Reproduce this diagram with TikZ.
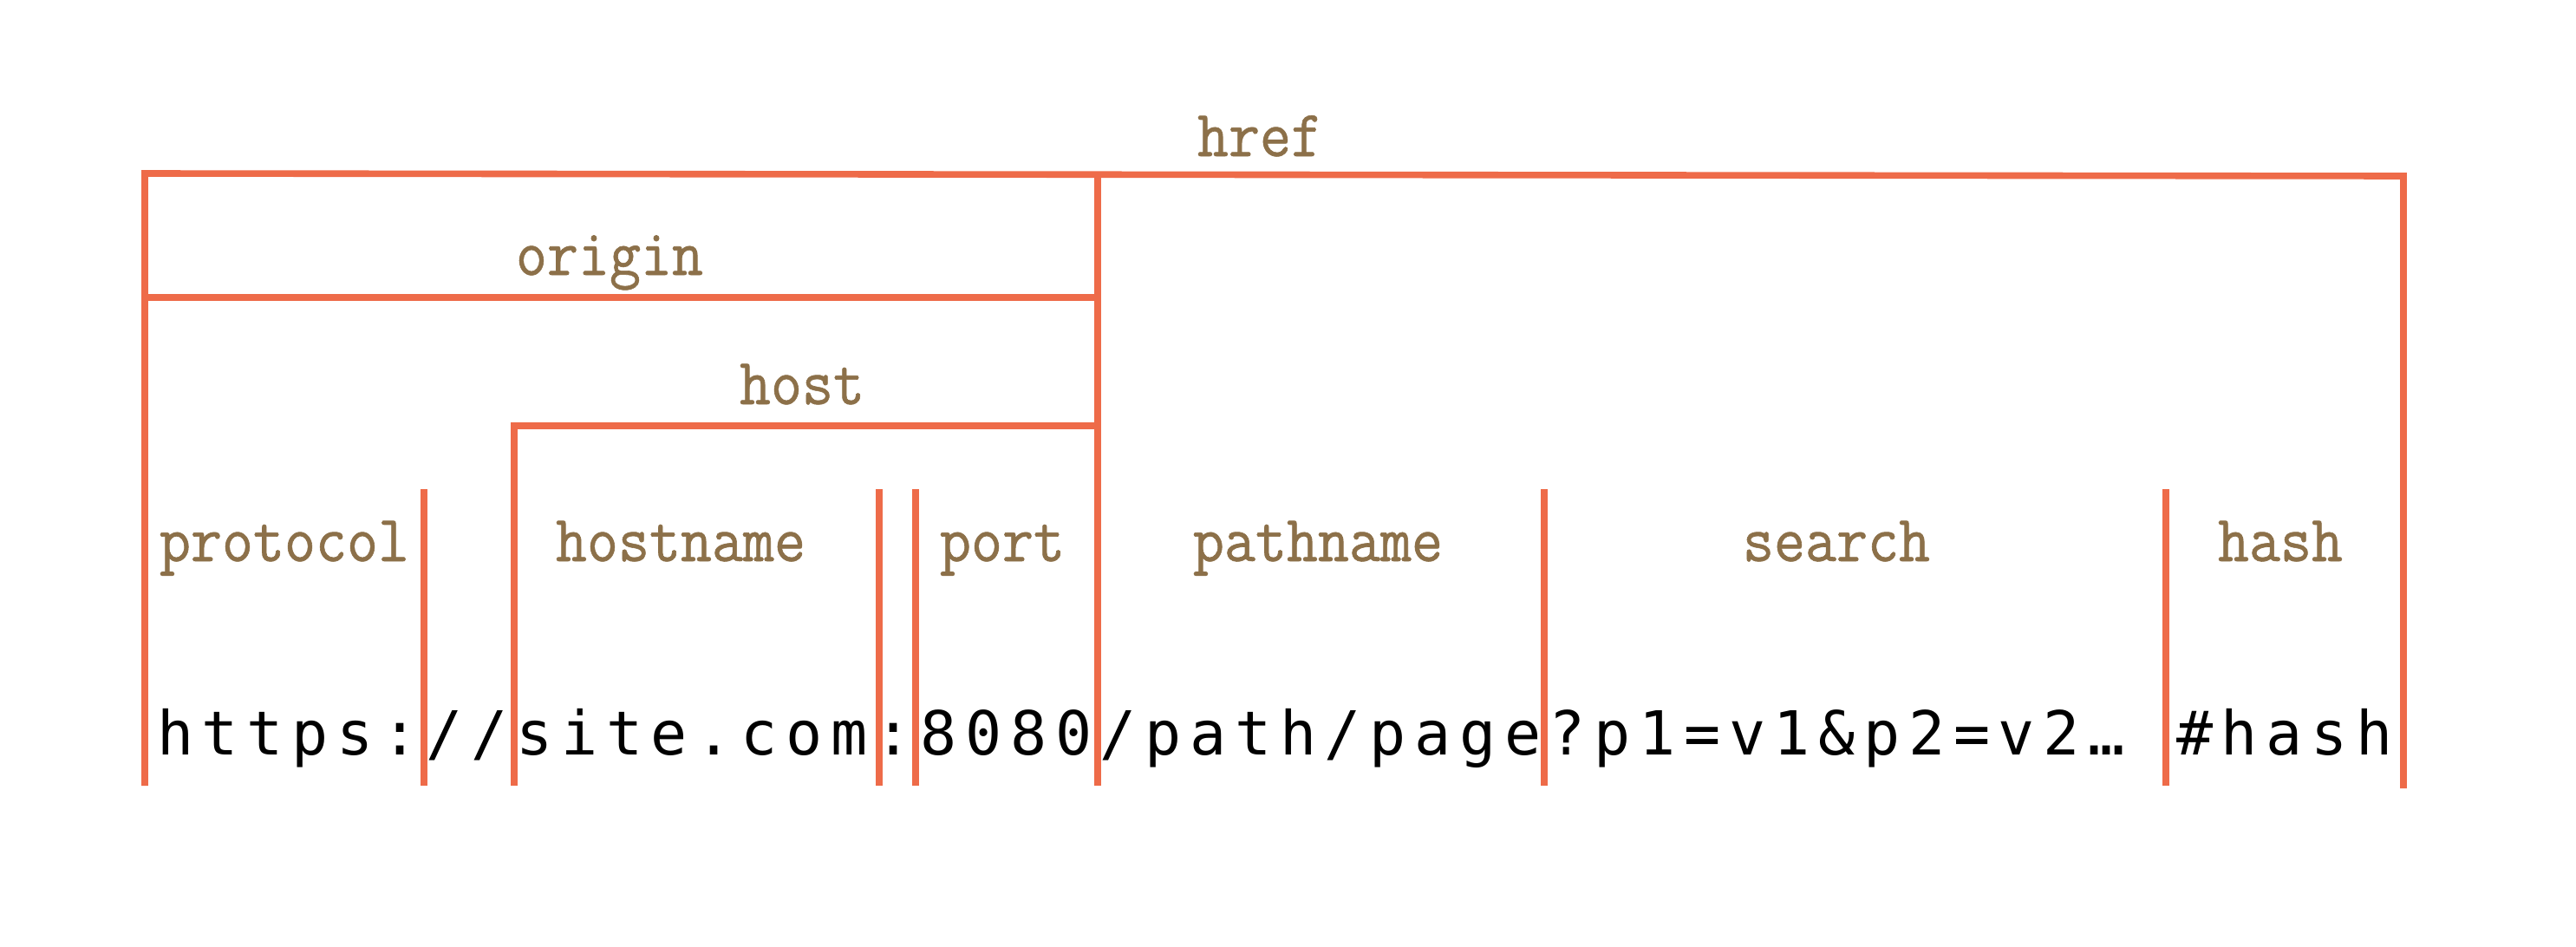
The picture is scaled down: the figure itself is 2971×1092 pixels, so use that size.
\documentclass[tikz,border=0pt]{standalone}
\usepackage{fontspec}
\newfontfamily\urlfont{DejaVu Sans Mono}
\newfontfamily\labfont{Latin Modern Mono}[FakeStretch=0.92,FakeBold=0.8]
\makeatletter
\newcommand\pitched[2]{{\urlfont\fontsize{35pt}{40pt}\selectfont\@tfor\mych:=#2\do{\makebox[#1][c]{\mych}}}}
\makeatother
\definecolor{segorange}{HTML}{EE6B49}
\definecolor{labbrown}{HTML}{8C7049}
\begin{document}
\begin{tikzpicture}[x=0.5pt,y=-0.5pt,
  seg/.style={draw=segorange,line width=3.8pt,line join=miter,line cap=butt},
  lab/.style={text=labbrown,font=\labfont\fontsize{38pt}{42pt}\selectfont,anchor=base,inner sep=0pt},
  urltext/.style={anchor=base west,inner sep=0pt,text=black}]
\useasboundingbox (0,0) rectangle (2971,1092);
% frame coordinates
\coordinate (tl) at (167,200);
\coordinate (tr) at (2772,203);
\coordinate (tm) at (1266,201);
\coordinate (bl) at (167,906);
\coordinate (br) at (2772,909);
\coordinate (bm) at (1266,906);
\coordinate (ol) at (167,343);
\coordinate (or) at (1266,343);
\coordinate (hb) at (593,906);
\coordinate (ht) at (593,491);
\coordinate (hr) at (1262,491);
% outer href bracket, origin, host
\draw[seg] (bl) -- (tl) -- (tr) -- (br);
\draw[seg] (tm) -- (bm);
\draw[seg] (ol) -- (or);
\draw[seg] (hb) -- (ht) -- (hr);
% short separators
\foreach \x/\n in {489/s1,1014/s2,1056/s3,1781/s4,2498/s5}{
  \coordinate (\n t) at (\x,564);
  \coordinate (\n b) at (\x,906);
  \draw[seg] (\n t) -- (\n b);
}
% labels
\node[lab] (href) at (1453,180) {href};
\node[lab] (origin) at (703,317) {origin};
\node[lab] (host) at (925,466) {host};
\node[lab] (protocol) at (328,647) {protocol};
\node[lab] (hostname) at (785,647) {hostname};
\node[lab] (port) at (1156,647) {port};
\node[lab] (pathname) at (1520,647) {pathname};
\node[lab] (search) at (2118,647) {search};
\node[lab] (hash) at (2630,647) {hash};
% URL text
\node[urltext] (url) at (176,870) {\pitched{25.9pt}{https://site.com:8080/path/page?p1=v1\&p2=v2…}};
\node[urltext] (urlhash) at (2505,870) {\pitched{25.9pt}{\#hash}};
\end{tikzpicture}
\end{document}
